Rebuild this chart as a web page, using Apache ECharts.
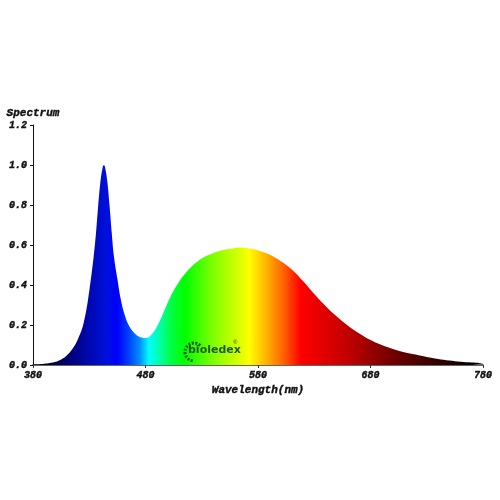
<!DOCTYPE html>
<html><head><meta charset="utf-8">
<script src="https://cdn.jsdelivr.net/npm/echarts@6/dist/echarts.min.js"></script>
<style>html,body{margin:0;padding:0;background:#fff}#c{width:500px;height:500px}</style>
</head><body><div id="c"></div>
<script>
const wavelengths = [380,385,390,395,400,405,410,415,420,425,430,435,438,440,442,443,444,446,448,450,452,455,458,461,465,470,475,480,485,490,495,500,505,510,515,520,525,530,540,550,560,565,570,580,590,600,610,620,630,640,650,660,670,680,690,700,710,720,730,740,750,760,770,780];
const spectrum = [0.002,0.003,0.006,0.010,0.016,0.028,0.048,0.08,0.13,0.21,0.37,0.60,0.80,0.92,0.99,1.0,0.99,0.92,0.80,0.66,0.54,0.43,0.33,0.26,0.20,0.16,0.14,0.135,0.15,0.19,0.25,0.315,0.372,0.418,0.455,0.486,0.512,0.533,0.559,0.576,0.585,0.587,0.585,0.573,0.552,0.52,0.478,0.42,0.355,0.295,0.242,0.196,0.158,0.125,0.10,0.08,0.064,0.052,0.04,0.03,0.022,0.016,0.012,0.009];
const xTicks = [380,480,580,680,780];
const yTicks = [0,0.2,0.4,0.6,0.8,1.0,1.2];
const xName = 'Wavelength(nm)';
const yName = 'Spectrum';

const colorStops = [
  [380,'#050012'],[400,'#000045'],[415,'#000080'],[430,'#0008b0'],[445,'#0010dc'],[455,'#0000ff'],
  [465,'#0040ff'],[475,'#0090ff'],[483,'#00ffff'],[493,'#00ffa0'],[503,'#00ff40'],
  [515,'#00ff00'],[540,'#80ff00'],[563,'#d8ff00'],[572,'#ffff00'],[588,'#ffb000'],
  [603,'#ff6000'],[618,'#ff0000'],[660,'#c00000'],[700,'#700000'],[740,'#300000'],[780,'#000000']
].map(([w,c]) => ({offset:(w-380)/400, color:c}));

const font = '"Liberation Mono","Courier New",monospace';
const txt = {fontFamily:font,fontWeight:'bold',fontStyle:'italic',color:'#111',textBorderColor:'#111',textBorderWidth:0.4};
const chart = echarts.init(document.getElementById('c'), null, {renderer:'canvas'});
chart.setOption({
  animation:false,
  grid:{left:33,right:17,top:125,bottom:135},
  xAxis:{
    type:'value', min:380, max:780, interval:100,
    name:xName, nameLocation:'middle', nameGap:20,
    nameTextStyle:Object.assign({fontSize:11},txt),
    axisLine:{lineStyle:{color:'#333',width:1.5}},
    axisTick:{show:true,length:3,lineStyle:{color:'#333'}},
    axisLabel:Object.assign({fontSize:10,margin:5,formatter:v=>xTicks.includes(v)?String(v):''},txt),
    splitLine:{show:false}
  },
  yAxis:{
    type:'value', min:0, max:1.2, interval:0.2,
    name:yName, nameLocation:'end', nameGap:6,
    nameTextStyle:Object.assign({fontSize:11,align:'center'},txt),
    axisLine:{show:true,lineStyle:{color:'#111',width:1}},
    axisTick:{show:true,length:3,lineStyle:{color:'#111'}},
    axisLabel:Object.assign({fontSize:10,margin:6,formatter:v=>v.toFixed(1)},txt),
    splitLine:{show:false}
  },
  series:[{
    type:'line', smooth:0.4, showSymbol:false,
    data:wavelengths.map((w,i)=>[w,spectrum[i]]),
    lineStyle:{width:0},
    areaStyle:{opacity:1,color:{type:'linear',x:0,y:0,x2:1,y2:0,colorStops:colorStops}}
  }],
  graphic:[
    {type:'arc',shape:{cx:194,cy:352,r:9,startAngle:Math.PI*0.55,endAngle:Math.PI*1.75},
      style:{stroke:'#1d5c1d',lineWidth:3,fill:null,lineDash:[2,1.5]},z:100},
    {type:'text',left:188,top:345,style:{text:'bioledex',fill:'#1d5c1d',font:'bold 11px "DejaVu Sans", sans-serif'},z:100},
    {type:'text',left:233,top:339,style:{text:'®',fill:'#1d5c1d',font:'6px sans-serif'},z:100}
  ]
});
</script></body></html>
